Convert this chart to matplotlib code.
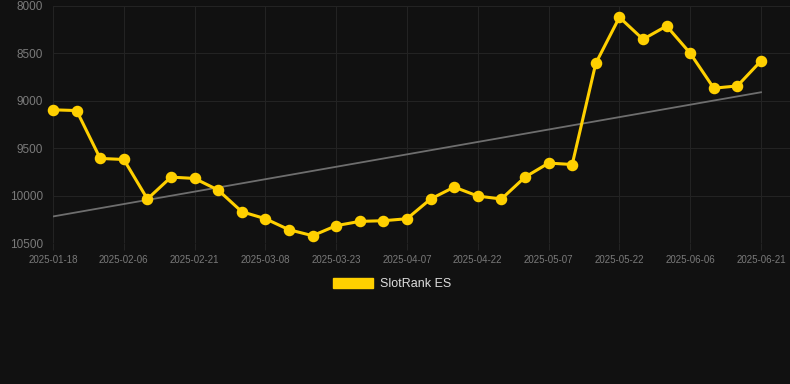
import numpy as np
import matplotlib
matplotlib.use("Agg")
import matplotlib.pyplot as plt
from matplotlib.patches import Patch

# weekly-ish SlotRank positions (lower is better, axis is inverted)
rank = [9095, 9103, 9608, 9619, 10036, 9805, 9819, 9942, 10170, 10244,
        10360, 10423, 10317, 10272, 10265, 10244, 10036, 9910, 10005, 10036,
        9805, 9657, 9672, 8604, 8119, 8351, 8211, 8498, 8867, 8843, 8579]
tick_labels = ['2025-01-18', '2025-02-06', '2025-02-21', '2025-03-08',
               '2025-03-23', '2025-04-07', '2025-04-22', '2025-05-07',
               '2025-05-22', '2025-06-06', '2025-06-21']
y_ticks = [8000, 8500, 9000, 9500, 10000, 10500]

plt.rcParams['font.family'] = ['Liberation Sans', 'DejaVu Sans']
bg = '#111111'
grid_c = '#232323'
gold = '#FFD000'

fig = plt.figure(figsize=(7.9, 3.84), dpi=100, facecolor=bg)
ax = fig.add_axes([53/790, 1 - 243/384, 737/790, 237/384])
ax.set_facecolor(bg)

x = np.arange(len(rank))
# trend line (least squares)
k, b = np.polyfit(x, rank, 1)
ax.plot(x, k * x + b, color='#6e6e6e', lw=1.3, zorder=2)
ax.plot(x, rank, color=gold, lw=2.2, marker='o', ms=7.3, zorder=3, clip_on=False)

ax.set_xlim(0, 30 + 29/23.6)
ax.set_ylim(10500, 8000)
ax.set_xticks(x[::3])
ax.set_xticklabels(tick_labels)
ax.set_yticks(y_ticks)

ax.grid(True, color=grid_c, lw=0.8)
ax.set_axisbelow(True)
for s in ax.spines.values():
    s.set_visible(False)
ax.tick_params(axis='x', colors=grid_c, length=5, width=0.8, pad=3.5,
               labelcolor='#7a7a7a', labelsize=7)
ax.tick_params(axis='y', length=0, pad=7, labelcolor='#7a7a7a', labelsize=8.5)

fig.legend(handles=[Patch(facecolor=gold, edgecolor=gold, label='SlotRank ES')],
           loc='center', bbox_to_anchor=(392/790, 1 - 284/384), frameon=False,
           handlelength=3.2, handleheight=0.95, handletextpad=0.5,
           fontsize=9, labelcolor='#dddddd')

fig.savefig('out.png', dpi=100, facecolor=bg)
